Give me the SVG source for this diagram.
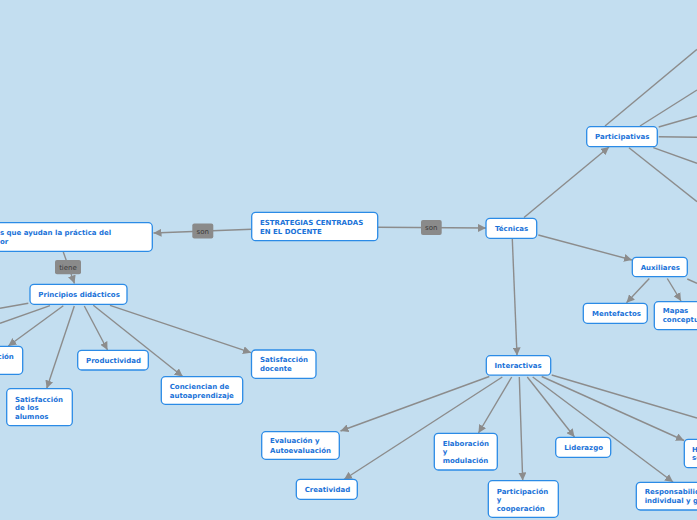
<svg xmlns="http://www.w3.org/2000/svg" width="697" height="520" viewBox="0 0 697 520">
<defs>
<marker id="arr" viewBox="0 0 10 10" refX="10" refY="5" markerWidth="8" markerHeight="8" markerUnits="userSpaceOnUse" orient="auto">
<path d="M0,0 L10,5 L0,10 z" fill="#8c8c8c"/>
</marker>
<style>
.bg{fill:#c3def0}
.n rect{fill:#fff;stroke:#2b8be6;stroke-width:1.3}
.n text{font-family:"DejaVu Sans",Verdana,sans-serif;font-weight:bold;font-size:7px;fill:#1a72d8}
.e line{stroke:#8c8c8c;stroke-width:1.4;fill:none}
.e line.a{marker-end:url(#arr)}
.lb rect{fill:#8a8a8a}
.lb text{font-family:"DejaVu Sans",Verdana,sans-serif;font-size:7px;fill:#3a3a3a;text-anchor:middle}
</style>
</defs>
<rect class="bg" x="0" y="0" width="697" height="520"/>
<g id="connectors" class="e">
<line class="a" x1="251.7" y1="229.3" x2="153.5" y2="233"/>
<line class="a" x1="377.7" y1="227.3" x2="486" y2="228"/>
<line class="a" x1="63.3" y1="252" x2="74.5" y2="283.5"/>
<line class="a" x1="524" y1="217.5" x2="609" y2="147"/>
<line class="a" x1="538.3" y1="235" x2="632" y2="260"/>
<line class="a" x1="512.3" y1="239" x2="517" y2="355.5"/>
<line x1="605" y1="126" x2="697" y2="49.3"/>
<line x1="640" y1="126" x2="697" y2="90"/>
<line x1="658.7" y1="127" x2="697" y2="116"/>
<line x1="658.7" y1="136.7" x2="697" y2="137.3"/>
<line x1="653.3" y1="147.7" x2="697" y2="163.3"/>
<line x1="629" y1="147.7" x2="697" y2="201.7"/>
<line class="a" x1="649.3" y1="278.5" x2="626.5" y2="302.8"/>
<line class="a" x1="667.3" y1="278.5" x2="681" y2="301"/>
<line x1="687.3" y1="279" x2="697" y2="283.3"/>
<line class="a" x1="489.3" y1="376.5" x2="340.5" y2="431"/>
<line class="a" x1="502.3" y1="377" x2="344" y2="479.5"/>
<line class="a" x1="511.7" y1="377" x2="478.5" y2="433"/>
<line class="a" x1="519.3" y1="377" x2="522.7" y2="480.5"/>
<line class="a" x1="527.3" y1="377" x2="574.5" y2="437"/>
<line class="a" x1="532.7" y1="377" x2="673" y2="482"/>
<line class="a" x1="541.7" y1="376.5" x2="684" y2="440.5"/>
<line x1="551.7" y1="375" x2="697" y2="418"/>
<line x1="28.3" y1="303.3" x2="0" y2="308.3"/>
<line x1="50" y1="305.7" x2="0" y2="323.3"/>
<line class="a" x1="63.3" y1="305.7" x2="8.3" y2="346"/>
<line class="a" x1="74.3" y1="306" x2="46.7" y2="388.5"/>
<line class="a" x1="84.3" y1="306" x2="107.5" y2="350"/>
<line class="a" x1="93.3" y1="305.3" x2="182.7" y2="376.5"/>
<line class="a" x1="110" y1="305.3" x2="251" y2="352.7"/>
</g>
<g id="label-son-1" class="lb"><rect x="192.3" y="223.5" width="21" height="15" rx="2"/><text x="202.8" y="233.5">son</text></g>
<g id="label-son-2" class="lb"><rect x="421" y="220" width="20.7" height="15" rx="2"/><text x="431.3" y="230">son</text></g>
<g id="label-tiene" class="lb"><rect x="55" y="260" width="26" height="14.3" rx="2"/><text x="68" y="269.8">tiene</text></g>
<g id="n-estrategias" class="n"><rect x="251.7" y="212.3" width="126" height="28.4" rx="4"/><text x="260" y="225">ESTRATEGIAS CENTRADAS</text><text x="260" y="233.5">EN EL DOCENTE</text></g>
<g id="n-tecnicas-ayudan" class="n"><rect x="-20" y="222.7" width="172.3" height="28.6" rx="4"/><text x="0" y="235.3">s que ayudan la práctica del</text><text x="0" y="243.7">or</text></g>
<g id="n-principios" class="n"><rect x="30" y="284.3" width="97" height="20" rx="4"/><text x="38.3" y="297">Principios didácticos</text></g>
<g id="n-cion" class="n"><rect x="-20" y="346.3" width="42.7" height="28" rx="4"/><text x="-2.5" y="359">ción</text></g>
<g id="n-sat-alumnos" class="n"><rect x="6.7" y="388.7" width="65.6" height="37" rx="4"/><text x="15" y="401.7">Satisfacción</text><text x="15" y="410.2">de los</text><text x="15" y="418.8">alumnos</text></g>
<g id="n-productividad" class="n"><rect x="77.7" y="350.3" width="70.6" height="19.7" rx="4"/><text x="86" y="362.7">Productividad</text></g>
<g id="n-conciencian" class="n"><rect x="161.3" y="376.7" width="81.4" height="27.6" rx="4"/><text x="169.7" y="389">Conciencian de</text><text x="169.7" y="397.8">autoaprendizaje</text></g>
<g id="n-sat-docente" class="n"><rect x="251.5" y="350" width="64.5" height="28.3" rx="4"/><text x="260" y="362.3">Satisfacción</text><text x="260" y="370.6">docente</text></g>
<g id="n-tecnicas" class="n"><rect x="486" y="218.3" width="50.7" height="20" rx="4"/><text x="495" y="230.8">Técnicas</text></g>
<g id="n-participativas" class="n"><rect x="586.7" y="126.7" width="70.6" height="20" rx="4"/><text x="595" y="139.2">Participativas</text></g>
<g id="n-auxiliares" class="n"><rect x="632.3" y="257.3" width="55" height="19.4" rx="4"/><text x="640.7" y="269.5">Auxiliares</text></g>
<g id="n-mentefactos" class="n"><rect x="583.3" y="303.3" width="64" height="20" rx="4"/><text x="592" y="315.8">Mentefactos</text></g>
<g id="n-mapas" class="n"><rect x="654.3" y="301.7" width="70" height="28" rx="4"/><text x="662.7" y="312.8">Mapas</text><text x="662.7" y="321.8">conceptuales</text></g>
<g id="n-interactivas" class="n"><rect x="486.3" y="355.7" width="64.4" height="19.5" rx="4"/><text x="494.5" y="367.5">Interactivas</text></g>
<g id="n-evaluacion" class="n"><rect x="261.7" y="431.7" width="77.6" height="27.6" rx="4"/><text x="270" y="443.4">Evaluación y</text><text x="270" y="452.7">Autoevaluación</text></g>
<g id="n-creatividad" class="n"><rect x="296.3" y="479.3" width="61" height="20" rx="4"/><text x="304.7" y="492.4">Creatividad</text></g>
<g id="n-elaboracion" class="n"><rect x="434.3" y="433.3" width="63" height="36.7" rx="4"/><text x="442.7" y="445.7">Elaboración</text><text x="442.7" y="454.3">y</text><text x="442.7" y="462.8">modulación</text></g>
<g id="n-participacion" class="n"><rect x="488.3" y="480.7" width="70" height="36.6" rx="4"/><text x="496.7" y="493.8">Participación</text><text x="496.7" y="502.3">y</text><text x="496.7" y="510.5">cooperación</text></g>
<g id="n-liderazgo" class="n"><rect x="555.7" y="437.3" width="55" height="20" rx="4"/><text x="564.3" y="449.8">Liderazgo</text></g>
<g id="n-responsabilidad" class="n"><rect x="636.3" y="482.3" width="110" height="27.7" rx="4"/><text x="644.7" y="494.4">Responsabilidad</text><text x="644.7" y="502.8">individual y grupal</text></g>
<g id="n-habilidades" class="n"><rect x="684.3" y="439.3" width="60" height="28.4" rx="4"/><text x="692" y="451.7">Habilidades</text><text x="692" y="460.2">sociales</text></g>
</svg>
